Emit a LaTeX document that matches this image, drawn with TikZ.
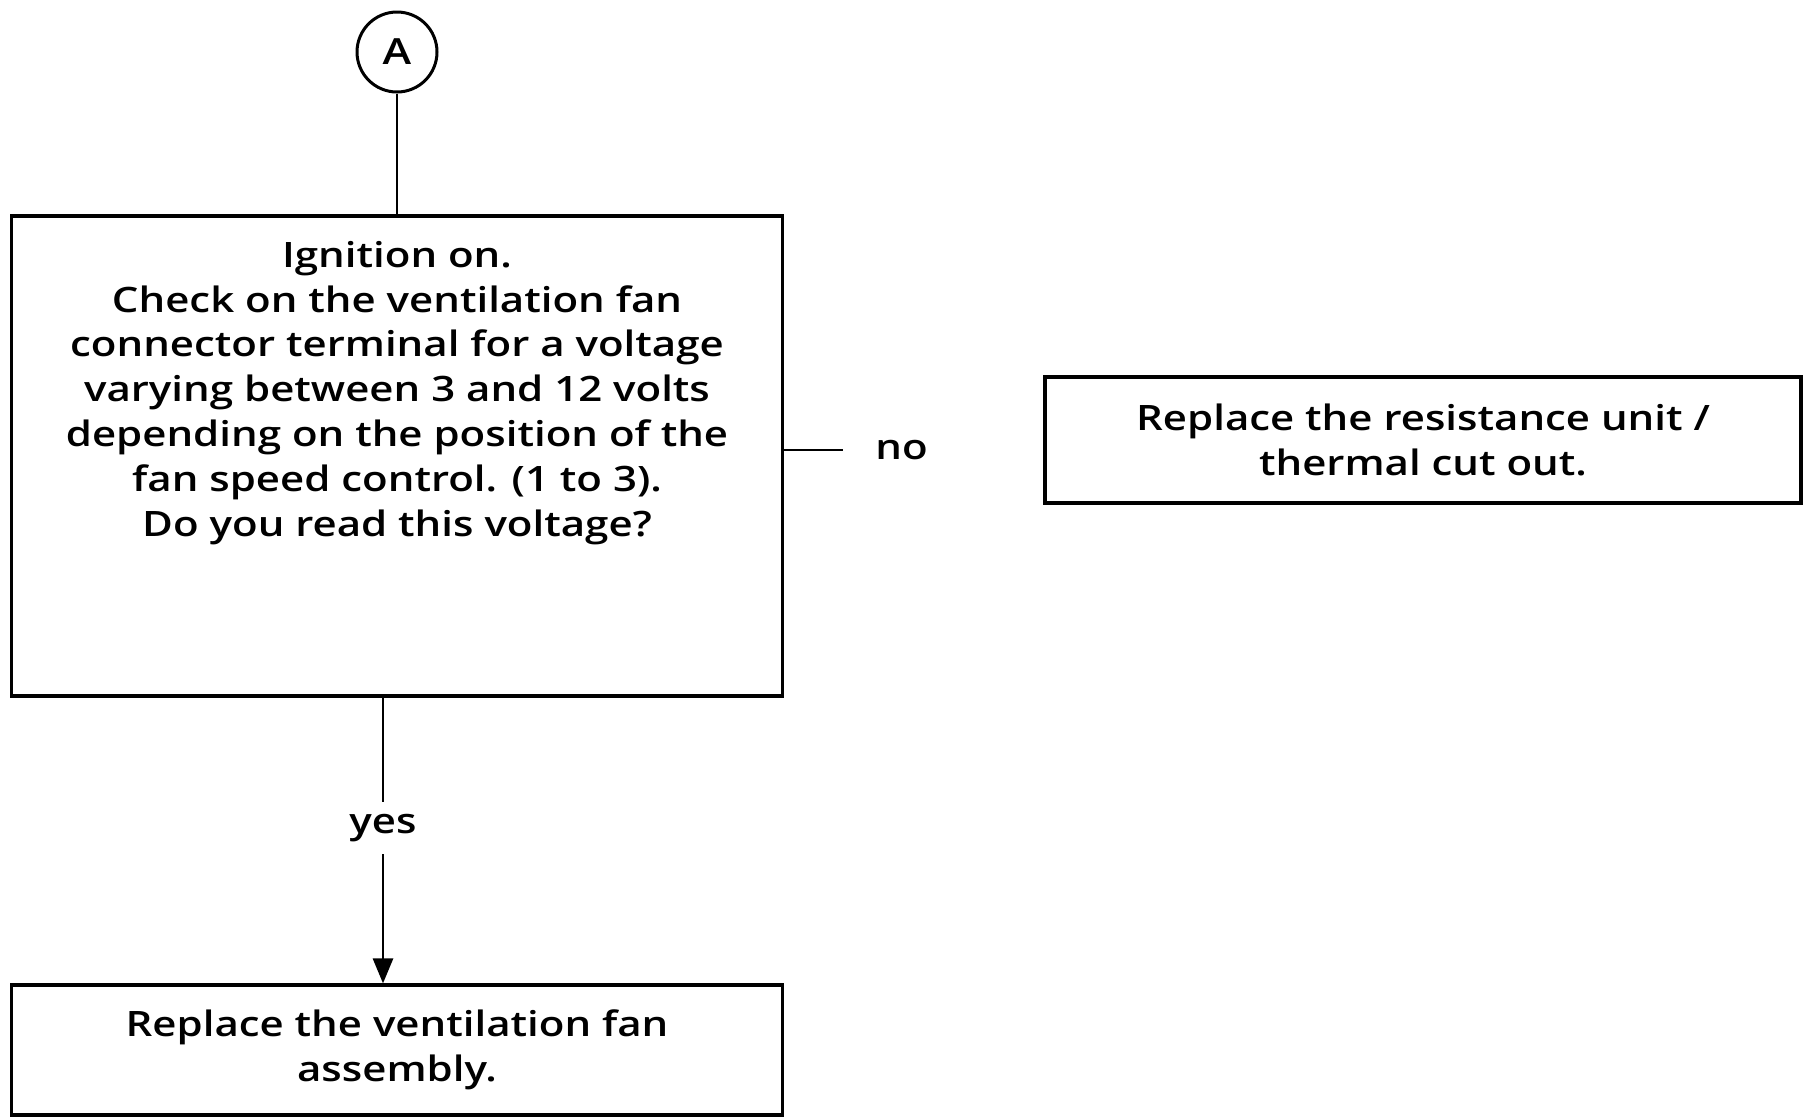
\documentclass[tikz,border=0pt]{standalone}
\usepackage{fontspec}
\setmainfont{Open Sans}[UprightFont={* Semibold}, FakeStretch=1.2]
\usetikzlibrary{arrows.meta}
\begin{document}
\begin{tikzpicture}[x=1pt,y=-1pt,
  box/.style={draw, line width=3.2pt, inner sep=0pt},
  label/.style={font=\fontsize{35}{44.8}\selectfont, align=center, inner sep=0pt},
  conn/.style={line width=2.8pt},
  gap/.style={fill=white, inner sep=0pt, minimum height=52pt, font=\fontsize{35}{44.8}\selectfont}]
  \useasboundingbox (0,0) rectangle (1810,1117);

  % connector symbol
  \node[draw, circle, line width=3pt, minimum size=80pt, inner sep=0pt,
        font=\fontsize{36}{40}\selectfont] (A) at (397,52) {A};

  % question box
  \node[box, minimum width=771pt, minimum height=480pt] (check) at (397,456) {};
  \node[label, anchor=north] (checktext) at (397,241)
    {Ignition on.\\
     Check on the ventilation fan\\
     connector terminal for a voltage\\
     varying between 3 and 12 volts\\
     depending on the position of the\\
     fan speed control. (1 to 3).\\
     Do you read this voltage?};

  % answer boxes
  \node[box, minimum width=756pt, minimum height=126pt, label] (resist) at (1423,440)
    {Replace the resistance unit /\\thermal cut out.};
  \node[box, minimum width=771pt, minimum height=130pt, label] (fan) at (397,1050)
    {Replace the ventilation fan\\assembly.};

  % connectors
  \draw[conn] (A.south) -- (A.south |- check.north);
  \coordinate (noend) at (843,450);
  \draw[conn] (check.east |- noend) -- (noend)
    node[label, anchor=west, xshift=31pt] (nolabel) {no};
  \coordinate (yesstart) at (383,696);
  \draw[conn, -{Triangle[length=25pt,width=20pt]}] (check.south -| yesstart)
    -- node[gap, pos=0.455] (yeslabel) {yes} (yesstart |- fan.north);
\end{tikzpicture}
\end{document}
